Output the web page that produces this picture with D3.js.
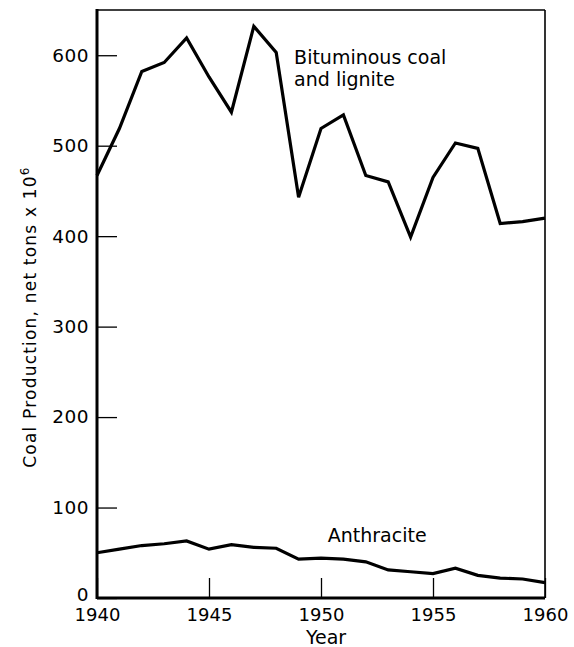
<!DOCTYPE html>
<html>
<head>
<meta charset="utf-8">
<script src="https://cdn.jsdelivr.net/npm/d3@7"></script>
<style>
	body { margin: 0; background: #fff; }
	svg { display: block; font-family: "DejaVu Sans", sans-serif; }
	.axis text { font-family: "DejaVu Sans", sans-serif; fill: #000; }
	.x.axis text { font-size: 18px; }
	.y.axis text { font-size: 18.5px; }
	.tick line { stroke: #000; stroke-width: 1.3; }
	.line { fill: none; stroke: #000; stroke-width: 3.2; stroke-linejoin: miter; }
</style>
</head>
<body>
<svg class="chart"></svg>
<script>
// Data (net tons x 10^6)
var years = [1940, 1941, 1942, 1943, 1944, 1945, 1946, 1947, 1948, 1949, 1950,
	1951, 1952, 1953, 1954, 1955, 1956, 1957, 1958, 1959, 1960];
var bituminous = [467, 519, 582, 592, 619, 576, 537, 632, 603, 443, 519,
	534, 467, 460, 399, 465, 503, 497, 414, 416, 420];
var anthracite = [50, 54, 58, 60, 63, 54, 59, 56, 55, 43, 44,
	43, 40, 31, 29, 27, 33, 25, 22, 21, 17];
var yTicks = [0, 100, 200, 300, 400, 500, 600];
var xTicks = [1940, 1945, 1950, 1955, 1960];

function drawChart(areaID) {

	var margin = {top: 10, right: 29, bottom: 49, left: 97},
		width = 574 - margin.left - margin.right,
		height = 647 - margin.top - margin.bottom;

	var x = d3.scaleLinear()
		.domain([1940, 1960])
		.range([0, width]);

	var y = d3.scaleLinear()
		.domain([0, 650])
		.range([height, 0]);

	var svg = d3.select("." + areaID)
		.attr("width", 574)
		.attr("height", 647);

	var chart = svg.append("g")
		.attr("transform", "translate(" + margin.left + "," + margin.top + ")");

	// Axes with ticks pointing into the plot
	var xAxis = d3.axisBottom(x)
		.tickValues(xTicks)
		.tickFormat(d3.format("d"))
		.tickSize(-20)
		.tickPadding(10);

	var yAxis = d3.axisLeft(y)
		.tickValues(yTicks)
		.tickSize(-20)
		.tickPadding(8);

	chart.append("g")
		.attr("class", "x axis")
		.attr("transform", "translate(0," + height + ")")
		.call(xAxis)
		.call(function(g) { g.select(".domain").remove(); });

	chart.append("g")
		.attr("class", "y axis")
		.call(yAxis)
		.call(function(g) { g.select(".domain").remove(); });

	// lift the zero label a little, as in the original
	chart.selectAll(".y.axis text")
		.attr("letter-spacing", "0.5px")
		.attr("dy", function(d) { return d === 0 ? "0.12em" : "0.32em"; });

	// Frame
	var frame = [
		{x1: 0, y1: 0, x2: width, y2: 0, w: 1.6},
		{x1: width, y1: 0, x2: width, y2: height, w: 1.6},
		{x1: 0, y1: height, x2: width, y2: height, w: 2.8},
		{x1: 0, y1: -1, x2: 0, y2: height + 1, w: 3}
	];
	chart.selectAll(".frame")
		.data(frame)
	  .enter().append("line")
		.attr("class", "frame")
		.attr("x1", function(d) { return d.x1; })
		.attr("y1", function(d) { return d.y1; })
		.attr("x2", function(d) { return d.x2; })
		.attr("y2", function(d) { return d.y2; })
		.attr("stroke", "#000")
		.attr("stroke-width", function(d) { return d.w; });

	// Lines
	var valueline = d3.line()
		.x(function(d) { return x(d.year); })
		.y(function(d) { return y(d.value); });

	[bituminous, anthracite].forEach(function(series) {
		var data = years.map(function(yr, i) { return {year: yr, value: series[i]}; });
		chart.append("path")
			.datum(data)
			.attr("class", "line")
			.attr("d", valueline);
	});

	// Series labels
	var lab = chart.append("text")
		.attr("font-size", "19px")
		.attr("x", x(1948.8))
		.attr("y", y(590));
	lab.append("tspan").text("Bituminous coal");
	lab.append("tspan").attr("x", x(1948.8)).attr("dy", 22).text("and lignite");

	chart.append("text")
		.attr("font-size", "19px")
		.attr("x", x(1950.3))
		.attr("y", y(62))
		.text("Anthracite");

	// Axis titles
	svg.append("text")
		.attr("font-size", "19px")
		.attr("text-anchor", "middle")
		.attr("x", 326)
		.attr("y", 644)
		.text("Year");

	var yt = svg.append("text")
		.attr("font-size", "17px")
		.attr("letter-spacing", "1.2px")
		.attr("text-anchor", "middle")
		.attr("transform", "translate(36,317) rotate(-90)");
	yt.append("tspan").text("Coal Production, net tons x 10");
	yt.append("tspan").attr("font-size", "12px").attr("dy", -7).text("6");
}

drawChart("chart");
</script>
</body>
</html>
